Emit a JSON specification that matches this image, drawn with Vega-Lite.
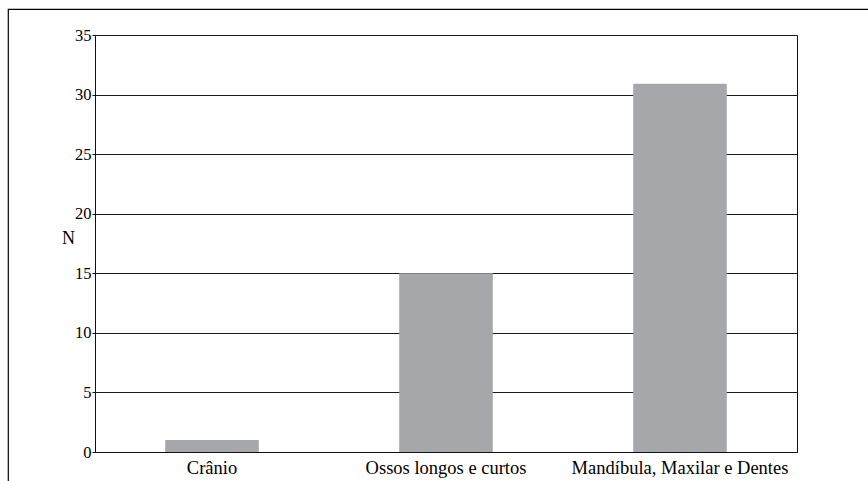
{
  "$schema": "https://vega.github.io/schema/vega-lite/v6.json",
  "autosize": {"type": "none"},
  "padding": {"left": 8, "top": 9, "right": 0, "bottom": 0},
  "width": 860,
  "height": 472,
  "background": "white",
  "config": {
    "font": "Liberation Serif",
    "view": {"stroke": "black", "strokeWidth": 1.2, "strokeDash": [860, 1332, 490, 0]},
    "axis": {"labelFont": "Liberation Serif", "titleFont": "Liberation Serif", "labelColor": "black", "titleColor": "black", "domainColor": "#111111", "tickColor": "#111111"}
  },
  "data": {
    "values": [
      {"categoria": "Crânio", "n": 1},
      {"categoria": "Ossos longos e curtos", "n": 15},
      {"categoria": "Mandíbula, Maxilar e Dentes", "n": 30.9}
    ]
  },
  "layer": [
    {
      "mark": {"type": "bar", "color": "#a6a7aa"},
      "encoding": {
        "x": {
          "field": "categoria", "type": "nominal", "sort": null,
          "scale": {"range": [87, 789], "paddingInner": 0.6, "paddingOuter": 0.3},
          "axis": {"orient": "bottom", "offset": -29, "ticks": false, "labelPadding": 6, "labelAngle": 0, "labelFontSize": 18.5, "labelLimit": 0, "title": null, "grid": false, "domainWidth": 1}
        },
        "y": {
          "field": "n", "type": "quantitative",
          "scale": {"domain": [0, 35], "nice": false, "zero": true, "range": [443, 26]},
          "axis": {"orient": "left", "offset": -87, "values": [0, 5, 10, 15, 20, 25, 30, 35], "tickSize": 3, "labelPadding": 1, "labelFontSize": 16.5, "grid": true, "gridColor": "#1a1a1a", "gridWidth": 1, "gridOpacity": 1, "title": "N", "titleAngle": 0, "titleFontSize": 18, "titleFontWeight": "normal", "titleAlign": "center", "titleBaseline": "middle", "titleX": -27, "titleY": 229.5}
        }
      }
    },
    {
      "mark": {"type": "bar", "opacity": 0},
      "encoding": {
        "x": {"field": "categoria", "type": "nominal", "sort": null},
        "y": {
          "field": "n", "type": "quantitative",
          "axis": {"orient": "right", "offset": -71, "labels": false, "ticks": false, "grid": false, "title": null, "domain": true}
        }
      }
    }
  ],
  "resolve": {"axis": {"y": "independent"}}
}
